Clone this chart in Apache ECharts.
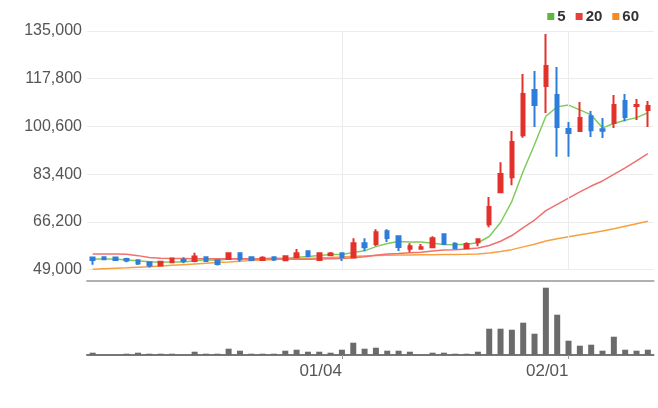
<!DOCTYPE html>
<html><head><meta charset="utf-8">
<script src="https://cdn.jsdelivr.net/npm/echarts@6.0.0/dist/echarts.min.js"></script>
<style>html,body{margin:0;padding:0;background:#fff}#c{width:658px;height:408px}</style>
</head><body><div id="c"></div>
<script>
const dates = ['11/30','12/01','12/02','12/03','12/04','12/07','12/08','12/09','12/10','12/11','12/14','12/15','12/16','12/17','12/18','12/21','12/22','12/23','12/24','12/28','12/29','12/30',
  '01/04','01/05','01/06','01/07','01/08','01/11','01/12','01/13','01/14','01/15','01/18','01/19','01/20','01/21','01/22','01/25','01/26','01/27','01/28','01/29',
  '02/01','02/02','02/03','02/04','02/05','02/08','02/09','02/10'];
const openP = [53300,53400,53300,52800,52350,51650,50450,51650,52450,52100,53450,52350,52800,54900,53450,52450,53450,52350,53450,55600,52450,54150,54900,53350,58500,58150,62800,61000,56450,56450,57050,61750,58300,56700,58850,65350,76900,82300,97450,113700,115150,111900,99650,98900,104300,99550,101800,109750,107950,106500];
const closeP = [52400,52700,52400,52250,51150,50450,51750,52950,52100,53700,52100,51000,54900,52700,52450,53250,52600,53800,54900,53900,54900,54750,53450,58500,57050,62450,60400,57150,57400,57050,60300,58150,56700,58150,59950,71500,83400,94950,112250,108300,122350,100350,98200,103600,99250,99000,108300,103950,108300,107950];
const highP = [53300,53800,53300,53200,52350,51900,52000,53350,53450,55000,53450,52350,55250,54900,53450,53800,53450,53800,56350,55600,54900,55350,55250,60300,60300,63550,63550,61000,58500,58150,61000,62100,58850,58850,60300,75100,87700,98900,119500,120550,133900,122000,102150,109400,106150,103600,111900,112250,110450,109750];
const lowP = [50700,52400,52100,51650,50650,49700,50450,51250,51250,51650,52100,50450,52800,51750,52100,52100,52100,52100,53450,53450,52450,53800,52100,53100,55700,57500,58950,55700,55250,56450,56700,58150,56700,56700,57400,64250,76900,79400,96500,100350,105400,89650,89650,98900,96750,96400,100000,102500,102900,100350];
const ma5 = [52800,52800,52800,52450,52180,51790,51600,51710,51680,52190,52520,52370,52760,52880,52630,52860,53180,52960,53400,53690,54020,54450,54380,55100,55730,57240,58370,59110,58890,58890,58460,58010,57920,58070,58650,60890,65940,73590,84410,94080,104250,107640,108290,106560,104750,100080,101670,102820,103760,105500];
const ma20 = [54630,54630,54600,54500,54000,53350,53100,53000,52950,52900,52900,52850,52850,52850,52850,52850,52800,52750,52700,52670,52800,52900,52950,53270,53560,54160,54590,54800,55070,55240,55650,56000,56090,56370,56740,57650,59190,61250,64120,66840,70210,72490,74730,76980,79090,80920,83320,85660,88200,90750];
const ma60 = [49100,49300,49450,49600,49800,50000,50250,50500,50750,51000,51250,51500,51700,51950,52200,52450,52600,52750,52900,53050,53150,53300,53500,53750,53900,54050,54150,54200,54250,54300,54350,54400,54450,54500,54600,54930,55450,56160,57160,58100,59270,60070,60800,61500,62200,62900,63700,64600,65500,66400];
const volume = [23000,2000,2000,13000,23000,13000,13000,13000,2000,33000,13000,13000,63000,43000,13000,13000,13000,43000,53000,33000,33000,23000,53000,123000,63000,73000,43000,43000,33000,2000,23000,23000,13000,13000,33000,263000,263000,253000,323000,213000,673000,403000,143000,93000,103000,43000,183000,53000,43000,53000];
const priceTicks = [49000,66200,83400,100600,117800,135000];
const tickDates = ['01/04','02/01'];

const BASE = priceTicks[0];
const STEP = priceTicks[1]-priceTicks[0];
const sh = v => v - BASE;
const candle = dates.map((d,i)=>[sh(openP[i]), sh(closeP[i]), sh(lowP[i]), sh(highP[i])]);
const FONT = 'Liberation Sans';
const chart = echarts.init(document.getElementById('c'), null, {renderer:'canvas'});
const showTick = (idx, val) => tickDates.indexOf(val) >= 0;
chart.setOption({
  animation:false,
  backgroundColor:'#fff',
  legend:{
    right:14, top:4, itemWidth:7, itemHeight:7, itemGap:10, icon:'rect',
    textStyle:{fontSize:15, fontWeight:'bold', color:'#333', fontFamily:FONT, padding:[0,0,0,-2]},
    data:['5','20','60']
  },
  grid:[
    {left:87, right:4.5, top:31, height:238.5},
    {left:87, right:4.5, top:281, height:74}
  ],
  xAxis:[
    {type:'category', data:dates, gridIndex:0, boundaryGap:true, show:false},
    {type:'category', data:dates, gridIndex:1, boundaryGap:true,
     axisLine:{show:true, lineStyle:{color:'#777', width:2}},
     axisTick:{show:true, interval:showTick, alignWithLabel:true, length:4, lineStyle:{color:'#999'}},
     axisLabel:{interval:showTick, fontSize:17, color:'#555', fontFamily:FONT, align:'right', margin:8, padding:[0,0,0,0]},
     splitLine:{show:false}},
    {type:'category', data:dates, gridIndex:1, position:'top', boundaryGap:true,
     axisLine:{show:true, lineStyle:{color:'#b0b0b0', width:2}}, axisTick:{show:false}, axisLabel:{show:false}}
  ],
  yAxis:[
    {type:'value', gridIndex:0, min:0, max:sh(priceTicks[priceTicks.length-1]), interval:STEP,
     axisLine:{show:false}, axisTick:{show:false},
     axisLabel:{fontSize:16, color:'#555', fontFamily:FONT, margin:5,
       formatter:v=>(v+BASE).toLocaleString('en-US')},
     splitLine:{lineStyle:{color:'#ececec', width:1}}},
    {type:'value', gridIndex:1, min:0, max:740000, show:false, splitLine:{show:false}}
  ],
  series:[
    {type:'candlestick', name:'price', xAxisIndex:0, yAxisIndex:0, data:candle, barWidth:4,
     itemStyle:{color:'#e3312b', color0:'#2f7ddb', borderColor:'#e3312b', borderColor0:'#2f7ddb', borderWidth:2}, z:5},
    {type:'line', name:'5', xAxisIndex:0, yAxisIndex:0, data:ma5.map(sh), showSymbol:false, symbol:'none',
     lineStyle:{color:'#7fcc5e', width:1.5}, itemStyle:{color:'#5cb83c'}, z:3},
    {type:'line', name:'20', xAxisIndex:0, yAxisIndex:0, data:ma20.map(sh), showSymbol:false, symbol:'none',
     lineStyle:{color:'#f07070', width:1.5}, itemStyle:{color:'#e5403a'}, z:3},
    {type:'line', name:'60', xAxisIndex:0, yAxisIndex:0, data:ma60.map(sh), showSymbol:false, symbol:'none',
     lineStyle:{color:'#f7a040', width:1.5}, itemStyle:{color:'#f58a1f'}, z:1,
     markLine:{silent:true, symbol:['none','none'], label:{show:false},
       lineStyle:{color:'#ececec', type:'solid', width:1},
       data:tickDates.map(d=>({xAxis:d}))}},
    {type:'bar', name:'volume', xAxisIndex:1, yAxisIndex:1, data:volume, barWidth:6,
     itemStyle:{color:'#6b6b6b'}}
  ]
});
</script></body></html>
